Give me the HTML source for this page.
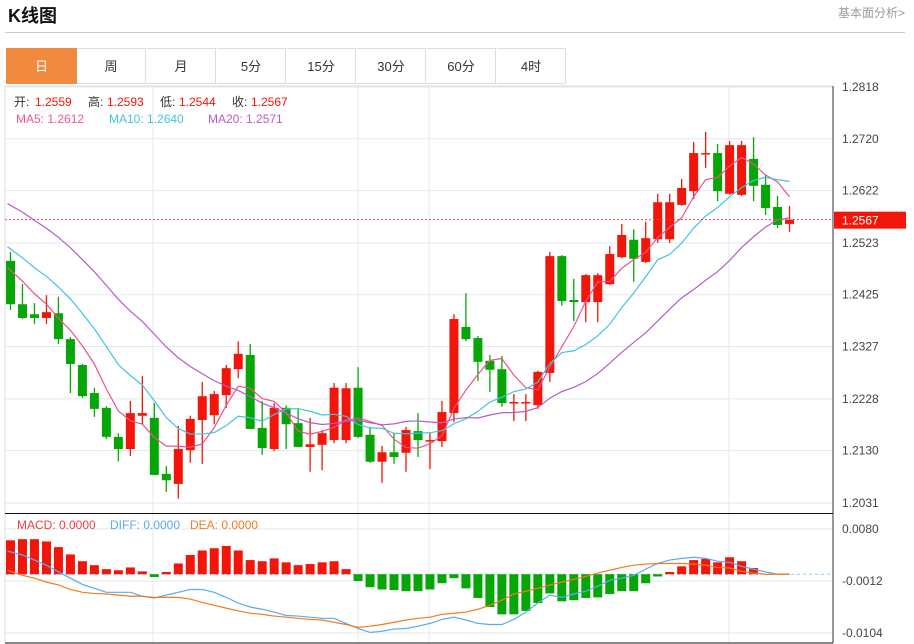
<!DOCTYPE html>
<html><head><meta charset="utf-8"><style>
body{margin:0;width:914px;height:644px;overflow:hidden;background:#fff;font-family:"Liberation Sans","Noto Sans CJK SC",sans-serif;}
#title{position:absolute;left:8px;top:2px;font-size:18px;font-weight:bold;color:#111;}
#more{position:absolute;left:838px;top:4px;font-size:12px;color:#999;}
#hr{position:absolute;left:5px;top:32px;width:900px;height:1px;background:#ccc;}
.tab{position:absolute;top:48px;height:36px;width:69px;border:1px solid #ddd;border-left:none;text-align:center;line-height:36px;font-size:13px;color:#333;box-sizing:border-box;}
</style></head><body>
<div id="title">K线图</div>
<div id="more">基本面分析&gt;</div>
<div id="hr"></div>
<div class="tab" style="left:6px;width:71px;border-left:1px solid #ddd;background:#f08a3e;color:#fff;border-color:#f08a3e">日</div>
<div class="tab" style="left:77px">周</div>
<div class="tab" style="left:147px">月</div>
<div class="tab" style="left:217px">5分</div>
<div class="tab" style="left:287px">15分</div>
<div class="tab" style="left:357px">30分</div>
<div class="tab" style="left:427px">60分</div>
<div class="tab" style="left:497px">4时</div>
<svg id="chart" width="914" height="644" style="position:absolute;left:0;top:0"></svg>
<script>
const opens=[1.2489,1.2407,1.2388,1.2381,1.2390,1.2341,1.2292,1.2239,1.2211,1.2156,1.2133,1.2196,1.2192,1.2086,1.2067,1.2131,1.2188,1.2197,1.2235,1.2284,1.2311,1.2173,1.2133,1.2211,1.2182,1.2137,1.2141,1.2150,1.2150,1.2249,1.2160,1.2109,1.2127,1.2126,1.2167,1.2148,1.2148,1.2201,1.2364,1.2343,1.2300,1.2284,1.2220,1.2220,1.2216,1.2277,1.2498,1.2415,1.2411,1.2411,1.2445,1.2496,1.2529,1.2487,1.2530,1.2530,1.2595,1.2621,1.2691,1.2693,1.2616,1.2614,1.2682,1.2633,1.2591,1.2559];
const highs=[1.2506,1.2445,1.2409,1.2424,1.2421,1.2345,1.2294,1.2249,1.2214,1.2163,1.2224,1.2271,1.2220,1.2101,1.2177,1.2196,1.2260,1.2243,1.2292,1.2337,1.2332,1.2224,1.2220,1.2216,1.2211,1.2192,1.2169,1.2258,1.2258,1.2288,1.2175,1.2139,1.2162,1.2175,1.2201,1.2163,1.2224,1.2388,1.2428,1.2347,1.2311,1.2309,1.2237,1.2237,1.2281,1.2506,1.2500,1.2455,1.2464,1.2466,1.2517,1.2559,1.2549,1.2563,1.2616,1.2616,1.2644,1.2714,1.2733,1.2710,1.2716,1.2716,1.2723,1.2652,1.2612,1.2593];
const lows=[1.2396,1.2379,1.2370,1.2370,1.2332,1.2239,1.2230,1.2194,1.2152,1.2110,1.2120,1.2180,1.2084,1.2052,1.2039,1.2107,1.2105,1.2180,1.2211,1.2267,1.2171,1.2122,1.2129,1.2133,1.2137,1.2090,1.2093,1.2144,1.2144,1.2154,1.2107,1.2069,1.2105,1.2090,1.2118,1.2095,1.2137,1.2184,1.2337,1.2262,1.2241,1.2213,1.2186,1.2186,1.2209,1.2260,1.2404,1.2375,1.2373,1.2373,1.2443,1.2494,1.2449,1.2485,1.2523,1.2523,1.2593,1.2606,1.2665,1.2602,1.2614,1.2612,1.2602,1.2576,1.2551,1.2544];
const closes=[1.2407,1.2381,1.2381,1.2392,1.2341,1.2294,1.2233,1.2209,1.2156,1.2133,1.2201,1.2201,1.2084,1.2074,1.2133,1.2190,1.2233,1.2237,1.2286,1.2313,1.2171,1.2135,1.2211,1.2180,1.2137,1.2142,1.2163,1.2249,1.2248,1.2156,1.2109,1.2127,1.2118,1.2169,1.2150,1.2150,1.2203,1.2379,1.2341,1.2298,1.2283,1.2220,1.2222,1.2222,1.2279,1.2498,1.2413,1.2411,1.2462,1.2462,1.2502,1.2538,1.2493,1.2532,1.2600,1.2600,1.2627,1.2693,1.2693,1.2621,1.2708,1.2708,1.2631,1.2589,1.2557,1.2567];
const priorCloses=[1.2700,1.2695,1.2690,1.2688,1.2685,1.2680,1.2672,1.2668,1.2660,1.2650,1.2590,1.2570,1.2555,1.2540,1.2520,1.2510,1.2500,1.2490,1.2475];
const priceTicks=[1.2818,1.2720,1.2622,1.2523,1.2425,1.2327,1.2228,1.2130,1.2031];
// MACD values in units of 1e-4
const macdHist=[60,62,62,58,48,35,23,16,9,7,12,5,-5,4,19,34,42,46,50,42,25,23,28,21,16,18,21,23,9,-12,-23,-27,-28,-30,-30,-27,-16,-7,-25,-42,-58,-71,-71,-65,-51,-34,-48,-46,-42,-41,-35,-30,-30,-16,-4,4,14,25,27,21,30,23,11,0,0,0];
const diffVals=[41,34,25,16,4,-7,-18,-25,-32,-32,-32,-39,-42,-37,-32,-27,-27,-32,-41,-51,-58,-62,-67,-73,-74,-76,-78,-78,-87,-96,-103,-101,-97,-96,-92,-87,-80,-76,-81,-87,-89,-89,-80,-67,-51,-37,-41,-35,-30,-21,-11,-7,-2,9,19,25,28,30,28,23,21,14,9,4,0,0];
const deaVals=[7,-2,-7,-14,-19,-27,-32,-34,-35,-37,-39,-39,-41,-41,-41,-44,-50,-55,-60,-65,-69,-71,-74,-76,-78,-80,-81,-85,-89,-94,-92,-89,-85,-81,-78,-76,-71,-69,-67,-62,-55,-46,-35,-30,-25,-19,-14,-9,-4,2,7,12,16,18,19,19,19,18,16,12,11,5,2,0,0,0];
const macdTicks=[0.0080,-0.0012,-0.0104];

const svg=document.getElementById('chart');
const NS='http://www.w3.org/2000/svg';
function mk(t,a,parent){const e=document.createElementNS(NS,t);for(const k in a)e.setAttribute(k,a[k]);(parent||svg).appendChild(e);return e;}
const RED='#f2160a',GREEN='#07a607';
const X0=10.5,DX=11.985;
const xs=i=>X0+DX*i;
const yP=p=>87+(1.2818-p)/0.0001892;
const yM=v=>581-(v/10000+0.0012)*5652;

// grid
priceTicks.forEach(p=>{
  const g=mk('line',{x1:5,x2:833,y1:yP(p),y2:yP(p),stroke:'#e3e8ee','stroke-width':1});
  
  const t=mk('text',{x:842,y:yP(p)+4,'font-size':12,fill:'#444','font-family':'Liberation Sans'});
  t.textContent=p.toFixed(4);
  
});
macdTicks.forEach(v=>{
  const y=yM(v*10000);
  const g=mk('line',{x1:5,x2:833,y1:y,y2:y,stroke:'#e3e8ee'});
  
  const t=mk('text',{x:842,y:y+4,'font-size':12,fill:'#444','font-family':'Liberation Sans'});
  t.textContent=v.toFixed(4);
  
});
[153,358,429,729].forEach(x=>{
  const l=mk('line',{x1:x,x2:x,y1:86,y2:643,stroke:'#e3e8ee'});
  
});
mk('line',{x1:5,x2:5,y1:86,y2:643,stroke:'#ddd'});
mk('line',{x1:5,x2:833,y1:86,y2:86,stroke:'#ddd'});
mk('line',{x1:833,x2:833,y1:86,y2:643,stroke:'#333'});
mk('line',{x1:5,x2:833,y1:513.5,y2:513.5,stroke:'#111'});
mk('line',{x1:5,x2:833,y1:643,y2:643,stroke:'#111'});

// candles
closes.forEach((c,i)=>{
  const o=opens[i],up=c>=o,col=up?RED:GREEN,x=xs(i);
  const w=mk('line',{x1:x,x2:x,y1:yP(highs[i]),y2:yP(lows[i]),stroke:col,'stroke-width':1.3});
  
  const t=Math.min(yP(o),yP(c)),h=Math.max(1.5,Math.abs(yP(o)-yP(c)));
  const r=mk('rect',{x:x-4.5,y:t,width:9,height:h,fill:col});
  
});
// MAs
const all=priorCloses.concat(closes),P=priorCloses.length;
function ma(n){return closes.map((_,i)=>{let s=0;for(let k=0;k<n;k++)s+=all[P+i-k];return s/n;});}
[[5,'#f0508a','ma5-line'],[10,'#3ec6dc','ma10-line'],[20,'#b45ccc','ma20-line']].forEach(([n,col,name],j)=>{
  const m=ma(n);
  const d=m.map((v,i)=>(i?'L':'M')+(xs(i)-(i?0:3))+','+yP(v)).join(' ');
  const p=mk('path',{d:d,fill:'none',stroke:col,'stroke-width':1.2});
  
});
// current price
const last=closes[closes.length-1];
const cl=mk('line',{x1:5,x2:833,y1:yP(last),y2:yP(last),stroke:'#f04040','stroke-dasharray':'2,2'});

const cb=mk('rect',{x:834,y:yP(last)-8,width:72,height:17,fill:'#f2160a'});

const ct=mk('text',{x:842,y:yP(last)+5,'font-size':12,fill:'#fff','font-family':'Liberation Sans'});
ct.textContent=last.toFixed(4);


// MACD
const z=mk('line',{x1:5,x2:833,y1:yM(0),y2:yM(0),stroke:'#8fd0ef','stroke-dasharray':'3,3'});

macdHist.forEach((v,i)=>{
  if(v===0)return;
  const y0=yM(0),y1=yM(v);
  const r=mk('rect',{x:xs(i)-4.5,y:Math.min(y0,y1),width:9,height:Math.abs(y1-y0),fill:v>0?RED:GREEN});
  
});
[[diffVals,'#5aaaf0','diff-line'],[deaVals,'#f57a20','dea-line']].forEach(([arr,col,name])=>{
  const d=arr.map((v,i)=>(i?'L':'M')+(xs(i)-(i?0:3))+','+yM(v)).join(' ');
  const p=mk('path',{d:d,fill:'none',stroke:col,'stroke-width':1.2});
  
});

// legends
function txt(x,y,s,col,name){const t=mk('text',{x:x,y:y,'font-size':12,fill:col,'font-family':'Liberation Sans, Noto Sans CJK SC, sans-serif'});t.textContent=s;return t;}
txt(14,106,'开:','#333','open-label');txt(35,106,'1.2559','#f2160a','open-value');
txt(88,106,'高:','#333','high-label');txt(107,106,'1.2593','#f2160a','high-value');
txt(160,106,'低:','#333','low-label');txt(179,106,'1.2544','#f2160a','low-value');
txt(232,106,'收:','#333','close-label');txt(251,106,'1.2567','#f2160a','close-value');
txt(16,123,'MA5: 1.2612','#ef5a8a','ma5-legend');
txt(109,123,'MA10: 1.2640','#3ec6dc','ma10-legend');
txt(208,123,'MA20: 1.2571','#b45ccc','ma20-legend');
txt(17,529,'MACD: 0.0000','#f04040','macd-legend');
txt(110,529,'DIFF: 0.0000','#5aaaf0','diff-legend');
txt(190,529,'DEA: 0.0000','#f57a20','dea-legend');
</script>
</body></html>
